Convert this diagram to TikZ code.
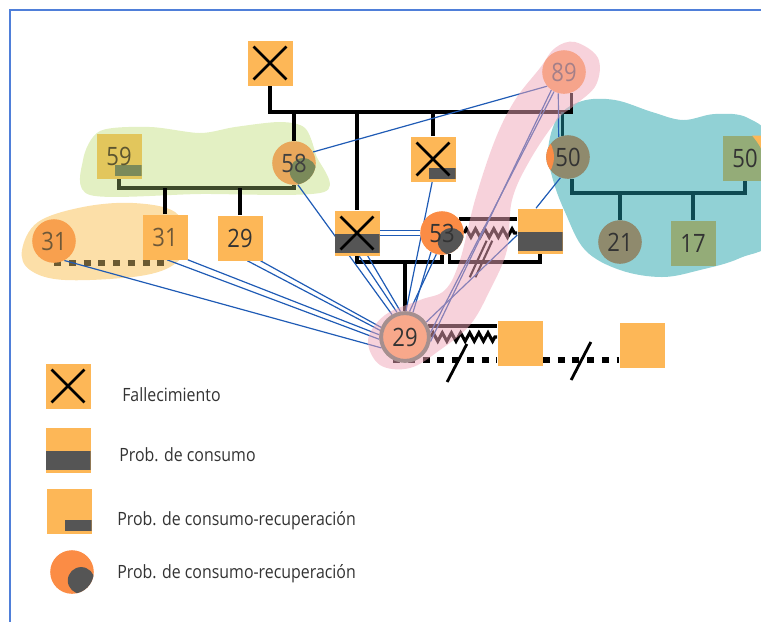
\documentclass[tikz,border=0pt]{standalone}
\usepackage{fontspec}
\setmainfont{Open Sans}[FakeStretch=0.87]
\usetikzlibrary{decorations.pathmorphing}

\definecolor{sqorange}{HTML}{FDB757}
\definecolor{ciorange}{HTML}{FB8C45}
\definecolor{darkbar}{HTML}{555555}
\definecolor{linkblue}{HTML}{1F5BB5}
\definecolor{framebl}{HTML}{4F7FD9}
\definecolor{blobgreen}{HTML}{E3F0C3}
\definecolor{bloborange}{HTML}{FCDFA8}
\definecolor{blobteal}{HTML}{91D1D5}
\definecolor{blobpink}{HTML}{F0A6B8}
\definecolor{gmorange}{HTML}{FDA35F}
\definecolor{egofill}{HTML}{F8A88B}
\definecolor{egoring}{HTML}{A58F8F}
\definecolor{sq59}{HTML}{E2C65C}
\definecolor{bar59}{HTML}{7B8A5A}
\definecolor{c58}{HTML}{E8A85C}
\definecolor{c31}{HTML}{F8A04E}
\definecolor{tealgray}{HTML}{8F8A6D}
\definecolor{tealgreen}{HTML}{94AC78}
\definecolor{greenline}{HTML}{3E4A2A}
\definecolor{brownline}{HTML}{6B5A32}
\definecolor{tealline}{HTML}{0E4A52}
\definecolor{txtbrown}{HTML}{6E5838}
\definecolor{txtolive}{HTML}{5C5530}

\pgfdeclarelayer{blobs}
\pgfdeclarelayer{links}
\pgfdeclarelayer{haze}
\pgfsetlayers{blobs,links,haze,main}

\begin{document}
\begin{tikzpicture}[x=0.025cm, y=-0.025cm,
	every node/.style={inner sep=0pt, font=\fontsize{18}{18}\selectfont, text=black!80},
	sq/.style={rectangle, fill=sqorange, minimum size=32pt},
	per/.style={circle, fill=ciorange, minimum size=31pt},
	consumo/.style={sq, path picture={\fill[darkbar] ([yshift=-1pt]path picture bounding box.west) rectangle ([yshift=1.5pt]path picture bounding box.south east);}},
	recup/.style={sq, path picture={\fill[#1] ([shift={(-19pt,9.5pt)}]path picture bounding box.south east) rectangle ([yshift=1.5pt]path picture bounding box.south east);}},
	recup/.default=darkbar,
	percirc/.style={per, path picture={\fill[#1] ([shift={(6.5pt,-6pt)}]path picture bounding box.center) circle (9.5pt);}},
	percirc/.default=darkbar,
	legend/.style={anchor=base west, font=\fontsize{13}{13}\selectfont, text=black!80},
	fam/.style={line width=2.4pt},
	zz/.style={line width=2.2pt, decorate, decoration={zigzag, segment length=6.5pt, amplitude=3pt}},
	gapline/.style={line width=4.5pt, dash pattern=on 5pt off 5.5pt},
	link/.style={linkblue, line width=0.85pt},
	xmark/.style={line width=1.8pt},
	framel/.style={framebl, line width=1.6pt}]

	\useasboundingbox (0,0) rectangle (761,621);
	\draw[framel] (10,660) -- (10,10) -- (800,10);

	% household groups
	\begin{pgfonlayer}{blobs}
		\fill[blobgreen] plot[smooth cycle, tension=0.5] coordinates {(83,160) (100,131) (150,127) (200,133) (235,127) (280,122) (305,128) (316,155) (324,192) (200,194) (90,195)};
		\fill[bloborange] plot[smooth cycle, tension=0.6] coordinates {(22,250) (38,222) (83,207) (133,203) (175,212) (186,240) (176,263) (140,276) (65,280) (30,270)};
		\fill[blobteal] plot[smooth cycle, tension=0.6] coordinates {(548,150) (558,117) (582,101) (615,100) (652,112) (683,120) (715,114) (748,118) (772,145) (775,235) (740,258) (700,270) (662,277) (620,270) (585,250) (565,212) (553,180)};
	\end{pgfonlayer}

	% people
	\node[sq] (gpa) at (270,63) {};
	\begin{pgfonlayer}{links}
		\node[per, fill=gmorange, text=black!65] (gma) at (564,72) {89};
	\end{pgfonlayer}
	\node[recup=bar59, fill=sq59, text=txtolive] (p59) at (119,156) {59};
	\node[percirc=bar59, fill=c58, text=black!75] (p58) at (294,163) {58};
	\node[per, fill=c31, text=txtbrown] (c31) at (54,241) {31};
	\node[sq, text=txtbrown] (s31) at (165,237) {31};
	\node[sq] (s29) at (240,238) {29};
	\node[consumo] (fa) at (357,233) {};
	\node[recup] (un) at (433,159) {};
	\node[percirc] (mo) at (442,233) {53};
	\node[consumo] (st) at (540,231) {};
	\node[per, fill=tealgray, path picture={\fill[ciorange] ([xshift=-30pt]path picture bounding box.center) circle (20pt);}] (au) at (568,157) {50};
	\node[sq, fill=tealgreen, path picture={\fill[sqorange] ([xshift=-11pt]path picture bounding box.north east) to[bend left=20] ([yshift=-30pt]path picture bounding box.north east) -- (path picture bounding box.north east) -- cycle;}] (sp50) at (745,158) {50};
	\node[per, fill=tealgray] (c21) at (620,242) {21};
	\node[sq, fill=tealgreen] (c17) at (693,243) {17};
	\node[per, fill=egofill, draw=egoring, line width=2.8pt, minimum size=34pt] (ego) at (405,337) {29};
	\node[sq] (pa1) at (520,343) {};
	\node[sq] (pa2) at (642,345) {};

	% legend
	\node[sq] (lx) at (68,386) {};
	\node[consumo] (lc) at (68,450) {};
	\node[recup] (lr) at (69,511) {};
	\node[percirc] (lo) at (72,572) {};
	\node[legend] (lxt) at (122,401.5) {Fallecimiento};
	\node[legend] (lct) at (119,461.5) {Prob. de consumo};
	\node[legend] (lrt) at (117,525) {Prob. de consumo-recuperación};
	\node[legend] (lot) at (117,578.5) {Prob. de consumo-recuperación};

	\foreach \n in {gpa, fa, un, lx}
		\draw[xmark] ([shift={(4.5pt,4.5pt)}]\n.south west) -- ([shift={(-4.5pt,-4.5pt)}]\n.north east)
			([shift={(4.5pt,-4.5pt)}]\n.north west) -- ([shift={(-4.5pt,4.5pt)}]\n.south east);

	\begin{pgfonlayer}{links}
		\coordinate (bar) at (0,112);
		\coordinate (gbar) at (0,188);
		\coordinate (pbar) at (0,262);
		\coordinate (tbar) at (0,193);

		\draw[fam] (gpa.south) |- (gma.-70 |- bar) -- (gma.-70);
		\foreach \n in {p58, fa, un}
			\draw[fam] (\n.north) -- (\n.north |- bar);
		\draw[fam, tealline] (au.105) -- (au.105 |- bar);

		\draw[fam, greenline] (p59.south) |- (p58.south |- gbar) -- (p58.south);
		\foreach \n in {s31, s29}
			\draw[fam] (\n.north) -- (\n.north |- gbar);
		\draw[gapline, brownline] (c31.south) -- (s31.south |- c31.south);

		\draw[fam] (fa.south) |- (mo.south |- pbar) -- (mo.south);
		\draw[fam] (ego.north) -- (ego.north |- pbar);
		\draw[fam] (mo.-70) |- (st.south |- pbar) -- (st.south);
		\coordinate (div) at (481,259);
		\foreach \s in {-2,2}
			\draw[fam, line width=1.5pt] ([xshift=\s pt, shift={(6pt,13pt)}]div) -- ([xshift=\s pt, shift={(-6pt,-13pt)}]div);
		\draw[fam] (mo.40) -- (mo.40 -| st.west);
		\draw[zz] (mo.east) -- (mo.east -| st.west);

		\draw[fam, tealline] (au.-80) |- (sp50.south |- tbar) -- (sp50.south);
		\foreach \n in {c21, c17}
			\draw[fam, tealline] (\n.north) -- (\n.north |- tbar);

		\draw[fam] (ego.25) -- (ego.25 -| pa1.west);
		\draw[zz] (ego.east) -- (ego.east -| pa1.west);
		\coordinate (sep) at (393,360);
		\draw[gapline] (sep) -- (sep -| pa1.west);
		\draw[gapline] (sep -| pa1.east) -- (sep -| pa2.west);
		\coordinate (cut1) at (457,363);
		\coordinate (cut2) at (581,361);
		\foreach \c in {cut1, cut2}
			\draw[fam, line width=2pt] ([shift={(7pt,13.5pt)}]\c) -- ([shift={(-7pt,-13.5pt)}]\c);

		% ties to the index person
		\foreach \a/\b in {c31.-62/ego.205, s31.-85/ego.185, s31.-45/ego.175, s29.-72/ego.165, s29.-48/ego.158,
				p58.-80/ego.120, fa.-85/ego.108, fa.-65/ego.100, un.-92/ego.88, mo.-105/ego.80, mo.-120/ego.72,
				gma.-125/ego.-10, gma.-117/ego.10, st.-170/ego.35}
			\draw[link] (\a) -- (\b);
		\foreach \s in {-1.5,1.5}
			\draw[link] ([yshift=\s pt]fa.east) -- ([yshift=\s pt]mo.west);
		\draw[link] (gma.-140) -- (p58.30);
		\draw[link] (gma.-105) -- (au.115);
		\draw[link] (au.-110) -- (st.100);
	\end{pgfonlayer}

	\begin{pgfonlayer}{haze}
		\fill[blobpink, opacity=0.5] plot[smooth cycle, tension=0.6] coordinates {(575,42) (598,58) (596,85) (575,105) (557,120) (530,160) (512,200) (507,250) (490,290) (470,325) (440,350) (410,368) (380,365) (368,340) (385,315) (420,300) (445,290) (460,260) (475,200) (495,140) (515,100) (540,68) (555,48)};
	\end{pgfonlayer}

\end{tikzpicture}
\end{document}
